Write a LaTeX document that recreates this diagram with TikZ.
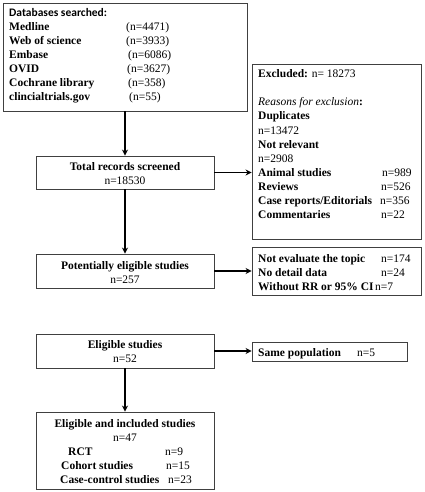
\documentclass[tikz,border=0pt]{standalone}
\usepackage{fontspec}
\setmainfont{Liberation Serif}
\newfontfamily\headfont{Carlito}
\newcommand\fs{\fontsize{11.5}{14}\selectfont}
\usetikzlibrary{arrows.meta,positioning}

\begin{document}
\begin{tikzpicture}[
  x=1pt, y=-1pt,
  font=\fs,
  box/.style={rectangle, draw=black!75, line width=0.9pt, inner sep=0pt},
  txt/.style={anchor=base west, inner sep=0pt},
  itm/.style={txt, font=\fs\bfseries},
  mid/.style={anchor=base, inner sep=0pt},
  midb/.style={mid, font=\fs\bfseries},
  flow/.style={-{Stealth[length=6pt,width=6pt]}, line width=1.4pt},
]
\useasboundingbox (0,0) rectangle (425,492);

% ---------- boxes
\node[box, minimum width=244pt, minimum height=108pt] (db)   at (125,57)    {};
\node[box, minimum width=178pt, minimum height=33pt]  (tot)  at (125,172.5) {};
\node[box, minimum width=169pt, minimum height=175pt] (exc)  at (336.5,151.5) {};
\node[box, minimum width=178pt, minimum height=34pt]  (pot)  at (125,271)   {};
\node[box, minimum width=169pt, minimum height=48pt]  (nev)  at (336.5,271) {};
\node[box, minimum width=178pt, minimum height=34pt]  (eli)  at (125,351)   {};
\node[box, minimum width=155pt, minimum height=19pt]  (same) at (329.5,351.5) {};
\node[box, minimum width=178pt, minimum height=77pt]  (inc)  at (125,450.5) {};

% ---------- databases
\node[txt, font=\headfont\bfseries\fs] (dbhead) at (9,17) {Databases searched:};
\foreach \src/\cnt/\nx [count=\i] in {Medline/4471/126, Web of science/3933/126,
    Embase/6086/128, OVID/3627/127, Cochrane library/358/128, clincialtrials.gov/55/129} {
  \node[itm] (src\i) at (9,17+14*\i)   {\src};
  \node[txt] (cnt\i) at (\nx,17+14*\i) {(n=\cnt)};
}

% ---------- screening
\node[midb] (totl) at (125,170) {Total records screened};
\node[mid]  (totn) at (125,184) {n=18530};

\node[txt] (exhead) at (258,78)  {\textbf{Excluded:} n= 18273};
\node[txt] (why)    at (258,106) {\textit{Reasons for exclusion}\textbf{:}};
\node[itm] (dup)    at (258,120) {Duplicates};
\node[txt] (dupn)   at (258,134) {n=13472};
\node[itm] (nrel)   at (258,148) {Not relevant};
\node[txt] (nreln)  at (258,162) {n=2908};
\node[itm] (anim)   at (258,176) {Animal studies};
\node[txt] (animn)  at (382,176) {n=989};
\node[itm] (rev)    at (258,190) {Reviews};
\node[txt] (revn)   at (381,190) {n=526};
\node[itm] (case)   at (258,204) {Case reports/Editorials};
\node[txt] (casen)  at (380,204) {n=356};
\node[itm] (comm)   at (258,218) {Commentaries};
\node[txt] (commn)  at (381,218) {n=22};

% ---------- eligibility
\node[midb] (potl) at (125,269) {Potentially eligible studies};
\node[mid]  (potn) at (125,283) {n=257};

\node[itm] (topic)  at (258,262) {Not evaluate the topic};
\node[txt] (topicn) at (381,262) {n=174};
\node[itm] (detail) at (258,276) {No detail data};
\node[txt] (detailn) at (381,276) {n=24};
\node[itm] (norr)   at (258,290) {Without RR or 95\% CI};
\node[txt] (norrn)  at (375,290) {n=7};

\node[midb] (elil) at (125,348) {Eligible studies};
\node[mid]  (elin) at (125,362) {n=52};

\node[itm] (pop)  at (258,356) {Same population};
\node[txt] (popn) at (357,356) {n=5};

% ---------- included
\node[midb] (incl) at (125,427) {Eligible and included studies};
\node[mid]  (incn) at (125,441) {n=47};
\node[itm] (rct)   at (68,455)  {RCT};
\node[txt] (rctn)  at (165,455) {n=9};
\node[itm] (coh)   at (61,469)  {Cohort studies};
\node[txt] (cohn)  at (166,469) {n=15};
\node[itm] (cc)    at (60,483)  {Case-control studies};
\node[txt] (ccn)   at (168,483) {n=23};

% ---------- arrows
\draw[flow] (db.south)  -- (tot.north);
\draw[flow] (tot.east)  -- (tot.east -| exc.west);
\draw[flow] (tot.south) -- (pot.north);
\draw[flow] (pot.east)  -- (nev.west);
\draw[flow] (eli.east)  -- (eli.east -| same.west);
\draw[flow] (eli.south) -- (inc.north);
\end{tikzpicture}
\end{document}
